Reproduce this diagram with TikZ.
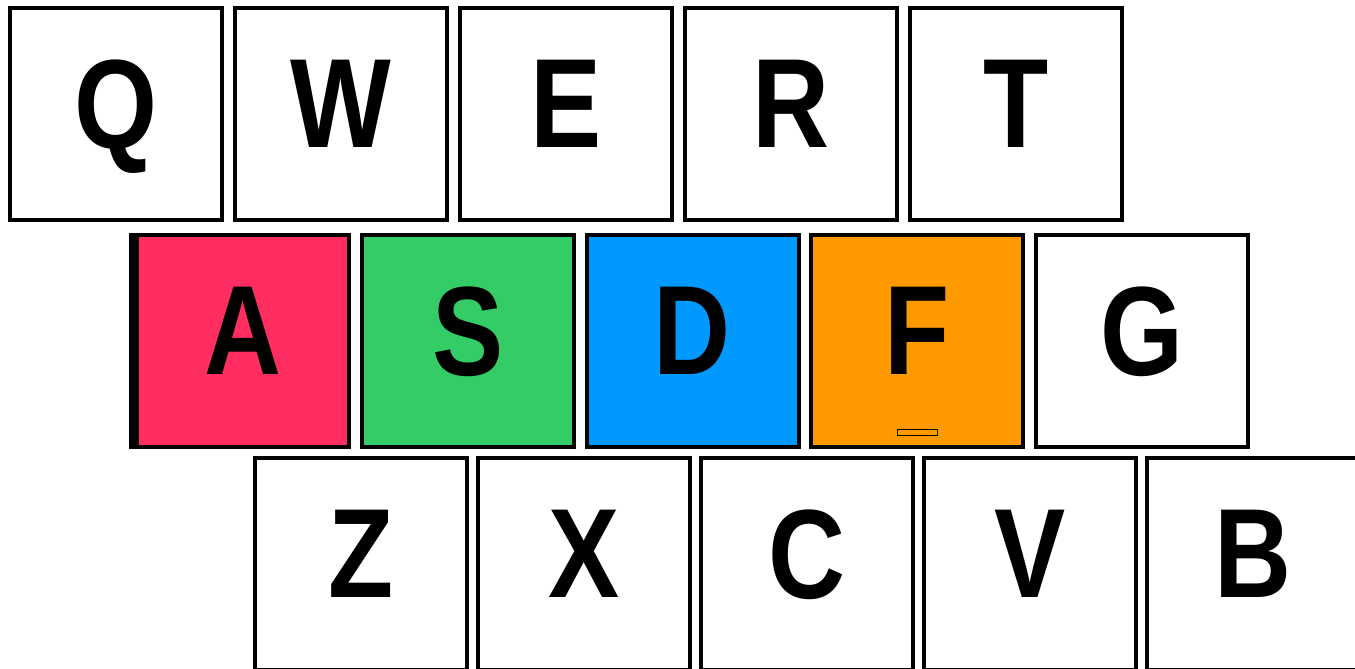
\documentclass[tikz,border=0pt]{standalone}
\usepackage{fontspec}
\newfontfamily\keyfont[FakeStretch=0.84]{Liberation Sans Bold}
\usetikzlibrary{positioning}
\definecolor{KeyRed}{HTML}{FF2D60}
\definecolor{KeyGreen}{HTML}{33CC66}
\definecolor{KeyBlue}{HTML}{0099FF}
\definecolor{KeyOrange}{HTML}{FF9900}

\begin{document}
\begin{tikzpicture}[x=1pt,y=-1pt,
  keycap/.style={draw=black,line width=4pt,minimum size=212pt,inner sep=0pt,
    text depth=20pt,font=\keyfont\fontsize{127}{127}\selectfont}]
  \clip (0,0) rectangle (1355,669);
  \foreach \k [count=\i from 0] in {Q,W,E,R,T}
    \node[keycap,fill=white] (key\k) at (116+225*\i,114) {\k};
  \foreach \k/\c [count=\i from 0] in {A/KeyRed,S/KeyGreen,D/KeyBlue,F/KeyOrange,G/white}
    \node[keycap,fill=\c] (key\k) at (243+224.75*\i,341) {\k};
  \foreach \k [count=\i from 0] in {Z,X,C,V,B}
    \node[keycap,fill=white] (key\k) at (361+223*\i,564) {\k};
  % heavier left edge of A
  \draw[line width=6pt] ([xshift=-3pt]keyA.north west) -- ([xshift=-3pt]keyA.south west);
  \node[draw=black,line width=1.2pt,fill=KeyOrange,minimum width=40pt,minimum height=6pt,
    inner sep=0pt,above=13pt of keyF.south] (bumpF) {};
\end{tikzpicture}
\end{document}
